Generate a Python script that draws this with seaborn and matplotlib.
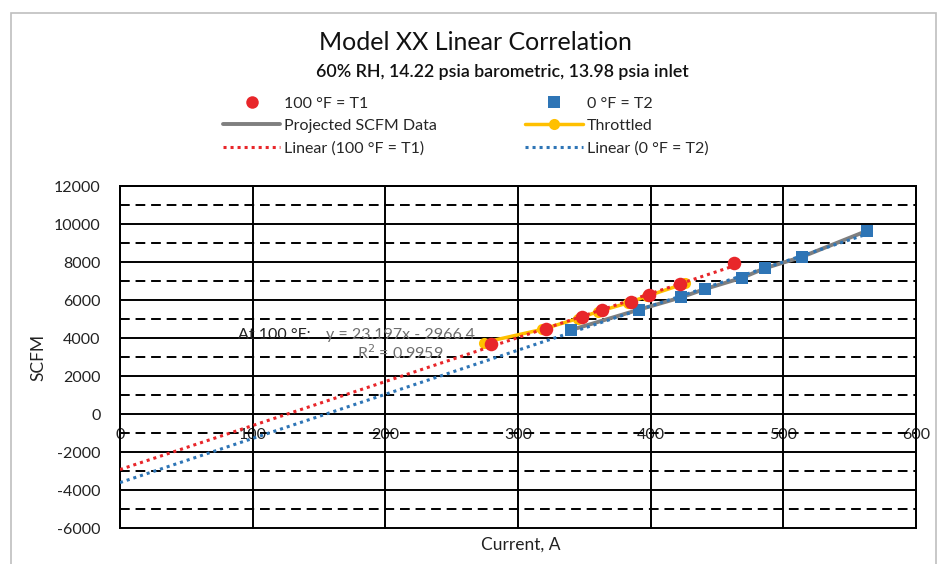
import numpy as np
import pandas as pd
import matplotlib
matplotlib.use("Agg")
import matplotlib.pyplot as plt
import seaborn as sns
from matplotlib.lines import Line2D
from matplotlib.patches import Rectangle

# ---- data ----
t1_current = [280, 321, 348, 363, 385, 399, 422, 463]
t1_scfm = [3680, 4500, 5100, 5450, 5900, 6250, 6820, 7950]

t2_current = [340, 391, 423, 441, 469, 486, 514, 563]
t2_scfm = [4420, 5490, 6140, 6580, 7170, 7670, 8270, 9640]

proj_current = [340, 391, 423, 441, 469, 486, 514, 563]
proj_scfm = [4420, 5490, 6140, 6580, 7170, 7670, 8270, 9640]

thr_current = [274, 318, 345, 360, 383, 397, 426]
thr_scfm = [3760, 4450, 5020, 5380, 5850, 6200, 6870]

x_ticks = [0, 100, 200, 300, 400, 500, 600]
y_ticks = [-6000, -4000, -2000, 0, 2000, 4000, 6000, 8000, 10000, 12000]

title = "Model XX Linear Correlation"
subtitle = "60% RH, 14.22 psia barometric, 13.98 psia inlet"

sns.set_style("white")
plt.rcParams['font.family'] = ['Lato', 'DejaVu Sans']

RED = "#E8262A"
BLUE = "#2E75B6"
ORANGE = "#FFC000"
GRAY = "#7F7F7F"

fig = plt.figure(figsize=(9.48, 5.64), dpi=100)
fig.patch.set_facecolor("white")
ax = fig.add_axes([120/948, 1-528/564, 796/948, 342/564])

df1 = pd.DataFrame({"x": t1_current, "y": t1_scfm})
df2 = pd.DataFrame({"x": t2_current, "y": t2_scfm})
dfp = pd.DataFrame({"x": proj_current, "y": proj_scfm})
dft = pd.DataFrame({"x": thr_current, "y": thr_scfm})

# trendlines (least-squares fits of the plotted series)
c1 = np.polyfit(t1_current, t1_scfm, 1)
c2 = np.polyfit(t2_current, t2_scfm, 1)
tx1 = np.array([0, max(t1_current)])
tx2 = np.array([0, max(t2_current)])

# grid
for yv in y_ticks:
    ax.axhline(yv, color="black", lw=1.4, zorder=1, clip_on=False)
for yv in range(-5000, 12000, 2000):
    ax.axhline(yv, color="black", lw=1.4, ls=(0, (5, 3)), zorder=1)
for xv in x_ticks:
    ax.axvline(xv, color="black", lw=1.4, zorder=1, clip_on=False)

sns.lineplot(data=dfp, x="x", y="y", ax=ax, color=GRAY, lw=2.8, zorder=3)
sns.lineplot(data=dft, x="x", y="y", ax=ax, color=ORANGE, lw=2.5, marker="o",
             markersize=8, markeredgewidth=0, zorder=3)
sns.lineplot(x=tx2, y=np.polyval(c2, tx2), ax=ax, color=BLUE, lw=2.2,
             ls=(0, (1, 1.3)), zorder=4)
sns.scatterplot(data=df2, x="x", y="y", ax=ax, color=BLUE, marker="s", s=80,
                linewidth=0, zorder=5)
sns.lineplot(x=tx1, y=np.polyval(c1, tx1), ax=ax, color=RED, lw=2.2,
             ls=(0, (1, 1.3)), zorder=4)
sns.scatterplot(data=df1, x="x", y="y", ax=ax, color=RED, marker="o", s=95,
                linewidth=0, zorder=6)

ax.set_xlim(0, 600)
ax.set_ylim(-6000, 12000)
ax.set_xticks(x_ticks)
ax.set_yticks(y_ticks)
ax.set_xticklabels([str(v) for v in x_ticks])
ax.set_yticklabels([str(v) for v in y_ticks])
ax.spines['bottom'].set_position(('data', 0))
for s in ax.spines.values():
    s.set_color("black")
    s.set_linewidth(1.4)
ax.spines['bottom'].set_visible(False)
ax.tick_params(axis="both", length=0, labelsize=11.5, colors="#222222")
ax.tick_params(axis="x", pad=10)
ax.tick_params(axis="y", pad=14)
ax.set_xlabel("")
ax.set_ylabel("")

fig.text(521/948, 1-545/564, "Current, A", ha="center", va="center", fontsize=12.5, color="#222222")
fig.text(38/948, 1-357/564, "SCFM", ha="center", va="center", rotation=90, fontsize=12.5, color="#222222")

# annotation
ax.text(89, 4180, "At 100 °F:", ha="left", va="center", fontsize=11.5, color="#222222", zorder=7)
ax.text(155, 4180, "y = 23.197x - 2966.4", ha="left", va="center", fontsize=11.5, color="#6E6E6E", zorder=7)
ax.text(211, 3230, "R$^2$ = 0.9959", ha="center", va="center", fontsize=11.5, color="#6E6E6E", zorder=7)

fig.text(475/948, 1-42/564, title, ha="center", va="center", fontsize=18, color="#111111")
fig.text(502/948, 1-72/564, subtitle, ha="center", va="center", fontsize=12.8,
         color="#111111", fontweight="semibold")

handles = [
    Line2D([], [], color=RED, marker="o", ls="none", markersize=9, markeredgewidth=0),
    Line2D([], [], color=GRAY, lw=2.8),
    Line2D([], [], color=RED, lw=2.2, ls=(0, (1, 1.3))),
    Line2D([], [], color=BLUE, marker="s", ls="none", markersize=9, markeredgewidth=0),
    Line2D([], [], color=ORANGE, lw=2.5, marker="o", markersize=8, markeredgewidth=0),
    Line2D([], [], color=BLUE, lw=2.2, ls=(0, (1, 1.3))),
]
labels = ["100 °F = T1", "Projected SCFM Data", "Linear (100 °F = T1)",
          "0 °F = T2", "Throttled", "Linear (0 °F = T2)"]
fig.legend(handles, labels, ncol=2, loc="center left",
           bbox_to_anchor=(215/948, 1-126/564), frameon=False, fontsize=11.5,
           handlelength=3.6, handletextpad=0.25, columnspacing=5.5,
           labelspacing=0.5, borderpad=0)

fig.add_artist(Rectangle((11/948, -0.1), (936-11)/948, 1.1 - 13/564,
                         transform=fig.transFigure, fill=False,
                         edgecolor="#BFBFBF", lw=1.2))

fig.savefig("out.png", dpi=100)
